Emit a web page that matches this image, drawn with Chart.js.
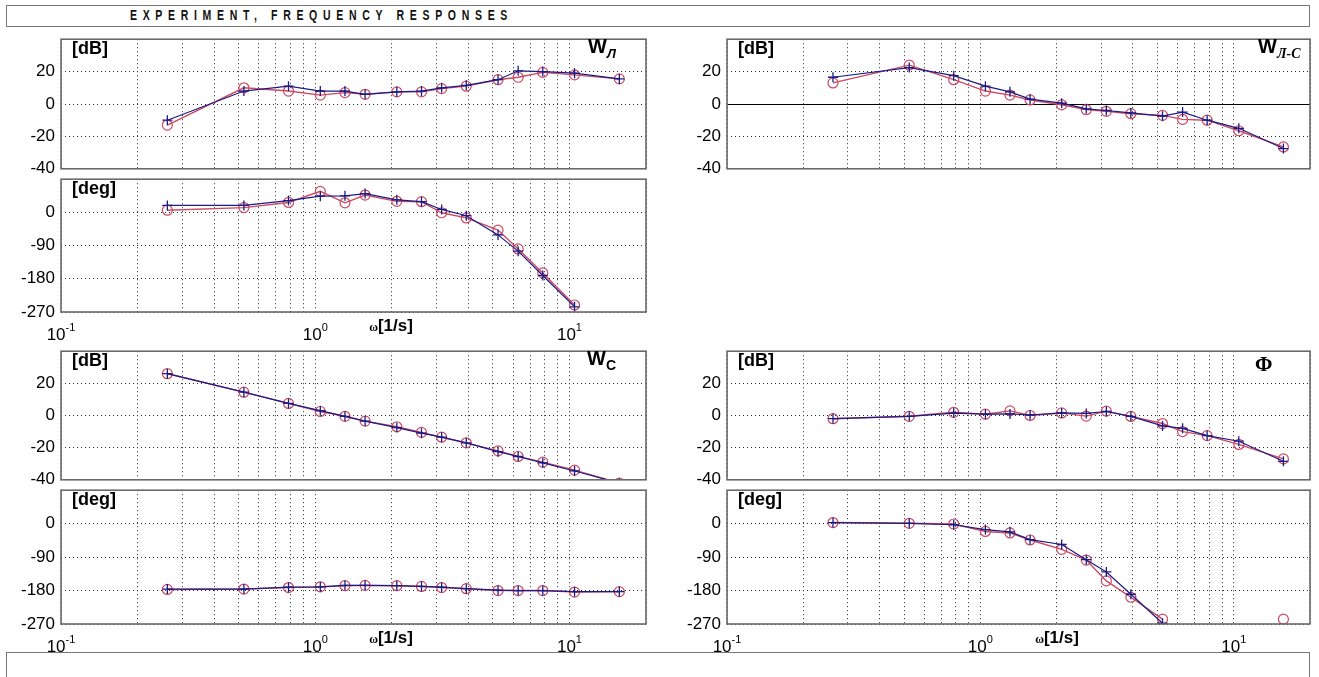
<!DOCTYPE html>
<html>
<head>
<meta charset="utf-8">
<title>Experiment, frequency responses</title>
<script src="https://cdn.jsdelivr.net/npm/chart.js@4.4.1/dist/chart.umd.min.js"></script>
<style>
  html, body { margin: 0; padding: 0; background: #fff; }
  body { position: relative; width: 1319px; height: 677px; overflow: hidden; font-family: "Liberation Sans", Arial, sans-serif; }
  canvas { position: absolute; }
  .box { position: absolute; left: 6px; width: 1304px; border: 1.5px solid #777; box-sizing: border-box; }
  #head { top: 5px; height: 22px; }
  #foot { top: 652px; height: 60px; }
  #title { position: absolute; left: 130px; top: 8px; font: bold 14px "Liberation Sans", Arial, sans-serif; line-height: 14px;
           white-space: nowrap; display: inline-block; transform: scaleX(0.75); transform-origin: left top; color: #111; }
</style>
</head>
<body>
<div class="box" id="head"></div>
<div class="box" id="foot"></div>
<span id="title">EXPERIMENT, FREQUENCY RESPONSES</span>

<script>
// test frequencies, 1/s
const omega = [0.262, 0.524, 0.785, 1.047, 1.309, 1.571, 2.094, 2.618, 3.142, 3.927, 5.236, 6.283, 7.854, 10.472, 15.708];

// grid positions on the log axis and the decades that get a label
const xGrid = [0.1, 0.2, 0.3, 0.4, 0.5, 0.6, 0.7, 0.8, 0.9, 1, 2, 3, 4, 5, 6, 7, 8, 9, 10, 20];
const xDecades = [-1, 0, 1];
const dbTicks = [-40, -20, 0, 20];
const degTicks = [-270, -180, -90, 0];

// W_Л : "+" series and "o" series
const wlDbPlus = [-10, 8, 11, 8, 8, 6, 7.5, 8, 10, 11.5, 15, 20.5, 20, 19, 15.5];
const wlDbRing = [-13, 10, 8, 5.5, 7, 6, 7.5, 7.5, 9.5, 11, 15, 16.5, 19.5, 18, 15.5];
const wlDegPlus = [19, 19, 32, 44, 45, 51, 34, 29, 8, -9, -61, -105, -171, -256, null];
const wlDegRing = [6, 13, 27, 57, 26, 47, 30, 29, -1, -15, -48, -99, -164, -251, null];

// W_Л-C
const wlcDbPlus = [16.5, 22.5, 17.5, 11, 7.5, 3, 0.5, -3, -4, -5.5, -7.5, -5, -10, -15, -27.5];
const wlcDbRing = [13, 24, 15, 8, 5.5, 2.5, -0.5, -3.5, -4.5, -6, -7, -9.5, -10, -16.5, -26.5];

// W_C
const wcDbPlus = [26, 14.5, 7.5, 3, -0.5, -3.5, -7.5, -11, -13.5, -17, -22.5, -25.5, -29.5, -34.5, -42];
const wcDbRing = [26, 14.5, 7.5, 2.5, -0.5, -3.5, -7, -10.5, -13.5, -17, -22, -25.5, -29, -34, -42];
const wcDegPlus = [-176, -176, -171, -170, -166, -166, -167, -169, -171, -175, -179, -180, -180, -183, -183];
const wcDegRing = [-177, -176, -172, -170, -167, -166, -167, -169, -172, -175, -180, -180, -180, -184, -183];

// Φ
const phiDbPlus = [-2, -0.5, 1.5, 0.8, 1, 0.3, 1.6, 1.3, 2.5, -0.5, -6.5, -8, -12.5, -16, -28.5];
const phiDbRing = [-2, -0.5, 2, 0.8, 2.9, 0, 1.6, -0.4, 2.7, -0.6, -5, -10, -12.5, -18, -27];
const phiDegPlus = [3, 1, -3, -16, -22, -43, -56, -97, -130, -190, -268, null, null, null, null];
const phiDegRing = [3, 1, -1, -21, -25, -44, -69, -98, -154, -198, -257, null, null, null, -257];

const BLUE = '#1b1b86';
const RED = '#cc4a62';
const SANS = '"Liberation Sans", Arial, sans-serif';
const SERIF = '"Liberation Serif", "Times New Roman", serif';

// squeeze the header text into its band
(function () {
  const t = document.getElementById('title');
  const w0 = t.getBoundingClientRect().width / 0.75;
  t.style.letterSpacing = ((383 / 0.75 - w0) / 31) + 'px';
})();

const axes = {
  db: { min: -40, max: 40, ticks: dbTicks, unit: '[dB]' },
  deg: { min: -270, max: 90, ticks: degTicks, unit: '[deg]' }
};

const panels = [
  { left: 0, width: 650, padRight: 4, plotTop: 33, plotHeight: 140, axis: 'db', plus: wlDbPlus, ring: wlDbRing,
    name: { main: 'W', sub: 'Л', subFont: 'italic bold 13px ' + SANS, dx: 58 } },
  { left: 0, width: 650, padRight: 4, plotTop: 173, plotHeight: 139, axis: 'deg', plus: wlDegPlus, ring: wlDegRing, xLabels: true },
  { left: 666, width: 650, padRight: 6, plotTop: 33, plotHeight: 140, axis: 'db', plus: wlcDbPlus, ring: wlcDbRing, zero: true,
    name: { main: 'W', sub: 'Л-C', subFont: 'italic bold 14px ' + SERIF, dx: 52 } },
  { left: 0, width: 650, padRight: 4, plotTop: 345, plotHeight: 139, axis: 'db', plus: wcDbPlus, ring: wcDbRing,
    name: { main: 'W', sub: 'C', subFont: 'bold 14px ' + SANS, dx: 59 } },
  { left: 0, width: 650, padRight: 4, plotTop: 484, plotHeight: 140, axis: 'deg', plus: wcDegPlus, ring: wcDegRing, xLabels: true },
  { left: 666, width: 650, padRight: 6, plotTop: 345, plotHeight: 139, axis: 'db', plus: phiDbPlus, ring: phiDbRing,
    name: { main: 'Φ', mainFont: 'bold 21px ' + SERIF, dx: 55, base: 20 } },
  { left: 666, width: 650, padRight: 6, plotTop: 484, plotHeight: 140, axis: 'deg', plus: phiDegPlus, ring: phiDegRing, xLabels: true }
];

function drawName(ctx, area, n) {
  const x = area.right - n.dx;
  ctx.fillStyle = '#000';
  ctx.textAlign = 'left';
  ctx.textBaseline = 'alphabetic';
  ctx.font = n.mainFont || ('bold 20px ' + SANS);
  ctx.fillText(n.main, x, area.top + (n.base || 14));
  if (n.sub) {
    const w = ctx.measureText(n.main).width;
    ctx.font = n.subFont;
    ctx.fillText(n.sub, x + w, area.top + 19);
  }
}

function drawXLabels(ctx, area, xs) {
  ctx.fillStyle = '#000';
  ctx.textBaseline = 'alphabetic';
  ctx.textAlign = 'left';
  xDecades.forEach(p => {
    const px = xs.getPixelForValue(Math.pow(10, p));
    ctx.font = '17px ' + SANS;
    const wBase = ctx.measureText('10').width;
    ctx.font = '11px ' + SANS;
    const wExp = ctx.measureText(String(p)).width;
    const x0 = px - (wBase + wExp) / 2;
    ctx.font = '17px ' + SANS;
    ctx.fillText('10', x0, area.bottom + 28);
    ctx.font = '11px ' + SANS;
    ctx.fillText(String(p), x0 + wBase, area.bottom + 19);
  });
  // axis title
  ctx.font = 'bold 12px ' + SERIF;
  const wo = ctx.measureText('ω').width;
  ctx.font = 'bold 17px ' + SANS;
  const wu = ctx.measureText('[1/s]').width;
  const cx = area.left + 330 - (wo + wu) / 2;
  ctx.font = 'bold 12px ' + SERIF;
  ctx.fillText('ω', cx, area.bottom + 19);
  ctx.font = 'bold 17px ' + SANS;
  ctx.fillText('[1/s]', cx + wo, area.bottom + 19);
}

function makePanel(p) {
  const ax = axes[p.axis];
  const bottomSpace = p.xLabels ? 40 : 12;
  const c = document.createElement('canvas');
  c.width = p.width;
  c.height = 10 + p.plotHeight + bottomSpace;
  c.style.left = p.left + 'px';
  c.style.top = (p.plotTop - 10) + 'px';
  c.style.width = c.width + 'px';
  c.style.height = c.height + 'px';
  document.body.appendChild(c);

  const decor = {
    id: 'decor',
    beforeDatasetsDraw(chart) {
      if (!p.zero) return;
      const { ctx, chartArea: a, scales: { y } } = chart;
      const yy = Math.round(y.getPixelForValue(0)) + 0.5;
      ctx.save();
      ctx.strokeStyle = '#000';
      ctx.lineWidth = 1;
      ctx.beginPath();
      ctx.moveTo(a.left, yy);
      ctx.lineTo(a.right, yy);
      ctx.stroke();
      ctx.restore();
    },
    afterDraw(chart) {
      const { ctx, chartArea: a, scales: { x } } = chart;
      ctx.save();
      ctx.strokeStyle = '#6a6a6a';
      ctx.lineWidth = 1.6;
      ctx.strokeRect(a.left, a.top, a.right - a.left, a.bottom - a.top);
      ctx.fillStyle = '#000';
      ctx.font = 'bold 18px ' + SANS;
      ctx.textAlign = 'left';
      ctx.textBaseline = 'alphabetic';
      ctx.fillText(ax.unit, a.left + 11, a.top + 14.5);
      if (p.name) drawName(ctx, a, p.name);
      if (p.xLabels) drawXLabels(ctx, a, x);
      ctx.restore();
    }
  };

  new Chart(c, {
    type: 'line',
    data: {
      datasets: [
        {
          data: omega.map((w, i) => ({ x: w, y: p.plus[i] })),
          borderColor: BLUE, borderWidth: 1.2,
          pointStyle: 'cross', pointRadius: 5, pointBorderColor: BLUE, pointBorderWidth: 1.3,
          tension: 0
        },
        {
          data: omega.map((w, i) => ({ x: w, y: p.ring[i] })),
          borderColor: RED, borderWidth: 1.4,
          pointStyle: 'circle', pointRadius: 5, pointBorderColor: RED, pointBorderWidth: 1.2,
          pointBackgroundColor: 'rgba(0,0,0,0)',
          tension: 0
        }
      ]
    },
    options: {
      responsive: false,
      animation: false,
      events: [],
      layout: { autoPadding: false, padding: { top: 10, right: p.padRight, left: 0, bottom: 0 } },
      plugins: { legend: { display: false }, tooltip: { enabled: false } },
      scales: {
        x: {
          type: 'logarithmic', min: 0.1, max: 20,
          afterBuildTicks: s => { s.ticks = xGrid.map(v => ({ value: v })); },
          afterFit: s => { s.height = bottomSpace; },
          ticks: { display: false },
          grid: { color: '#2a2a2a', lineWidth: 1, drawTicks: false },
          border: { display: false, dash: [1, 3] }
        },
        y: {
          type: 'linear', min: ax.min, max: ax.max,
          afterBuildTicks: s => { s.ticks = ax.ticks.map(v => ({ value: v })); },
          afterFit: s => { s.width = 61; },
          ticks: { color: '#000', padding: 6, font: { family: 'Liberation Sans', size: 17 }, callback: v => String(v) },
          grid: { color: '#2a2a2a', lineWidth: 1, drawTicks: false },
          border: { display: false, dash: [1, 3] }
        }
      }
    },
    plugins: [decor]
  });
}

panels.forEach(makePanel);
</script>
</body>
</html>
